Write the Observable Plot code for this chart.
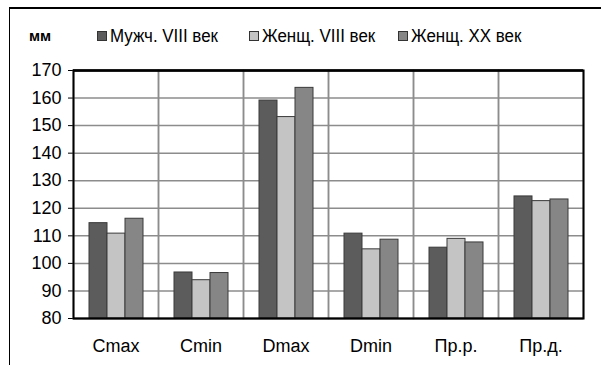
<!DOCTYPE html>
<html>
<head>
<meta charset="utf-8">
<script src="https://cdn.jsdelivr.net/npm/d3@7"></script>
<script src="https://cdn.jsdelivr.net/npm/@observablehq/plot@0.6"></script>
<style>
  html, body { margin: 0; padding: 0; background: #fff; }
  #wrap { position: relative; width: 601px; height: 365px; overflow: hidden; font-family: "Liberation Sans", sans-serif; }
  #outer { position: absolute; left: 9px; top: 7px; right: -10px; bottom: -10px; border-top: 2px solid #000; border-left: 1.5px solid #000; }
  #legend { position: absolute; left: 0; top: 24px; width: 601px; height: 26px; font-size: 18px; color: #000; }
  #legend .unit { position: absolute; left: 29px; top: 0; font-size: 15px; line-height: 24px; font-weight: bold; }
  #legend .item { position: absolute; top: 0; line-height: 24px; white-space: nowrap; }
  #legend .sw { display: inline-block; width: 8px; height: 8px; border: 1px solid #333; margin-right: 3px; vertical-align: 1px; }
  #legend .txt { display: inline-block; transform: scaleX(0.94); transform-origin: left center; }
  #chart { position: absolute; left: 0; top: 0; }
</style>
</head>
<body>
<div id="wrap">
  <div id="outer"></div>
  <div id="chart"></div>
  <div id="legend"></div>
</div>
<script>
const categories = ["Cmax", "Cmin", "Dmax", "Dmin", "Пр.р.", "Пр.д."];
const series = ["Мужч. VIII век", "Женщ. VIII век", "Женщ. XX век"];
const colors = ["#5c5c5c", "#c4c4c4", "#868686"];
const valuesMale8 = [114.6, 96.7, 159.1, 110.8, 105.7, 124.3];
const valuesFemale8 = [110.8, 93.9, 153.1, 105.1, 108.9, 122.6];
const valuesFemale20 = [116.2, 96.5, 163.7, 108.6, 107.6, 123.2];
const yTicks = [80, 90, 100, 110, 120, 130, 140, 150, 160, 170];
const unitLabel = "мм";

const seriesValues = [valuesMale8, valuesFemale8, valuesFemale20];
const data = [];
categories.forEach((c, i) => {
  series.forEach((s, j) => data.push({category: c, series: s, value: seriesValues[j][i]}));
});

const plot = Plot.plot({
  width: 601,
  height: 365,
  marginLeft: 72,
  marginRight: 18,
  marginTop: 70,
  marginBottom: 47,
  style: {fontFamily: "Liberation Sans, sans-serif", fontSize: "18px", color: "#000", background: "transparent"},
  fx: {domain: categories, padding: 0, label: null, tickSize: 0, tickPadding: 21},
  x: {domain: series, paddingInner: 0, paddingOuter: 0.74, axis: null},
  y: {domain: [80, 170], ticks: yTicks, tickSize: 5, tickPadding: 7, label: null},
  color: {domain: series, range: colors},
  marks: [
    Plot.frame({stroke: "#8c8c8c", strokeWidth: 1.5}),
    Plot.ruleY(yTicks.slice(1, -1), {stroke: "#8c8c8c", strokeWidth: 1.5}),
    Plot.barY(data, {fx: "category", x: "series", y1: 80, y2: "value", fill: "series", stroke: "#3a3a3a", strokeWidth: 1}),
    Plot.ruleY([170], {stroke: "#000", strokeWidth: 2.5}),
    Plot.ruleY([80], {stroke: "#000", strokeWidth: 1.5}),
    Plot.frame({facet: "super", stroke: "#000", strokeWidth: 2, fill: "none"})
  ]
});
document.getElementById("chart").appendChild(plot);

const legend = document.getElementById("legend");
const unit = document.createElement("span");
unit.className = "unit";
unit.textContent = unitLabel;
legend.appendChild(unit);
const legendX = [97, 249, 398];
series.forEach((s, j) => {
  const it = document.createElement("span");
  it.className = "item";
  it.style.left = legendX[j] + "px";
  const sw = document.createElement("span");
  sw.className = "sw";
  sw.style.background = colors[j];
  it.appendChild(sw);
  const tx = document.createElement("span");
  tx.className = "txt";
  tx.textContent = s;
  it.appendChild(tx);
  legend.appendChild(it);
});
</script>
</body>
</html>
